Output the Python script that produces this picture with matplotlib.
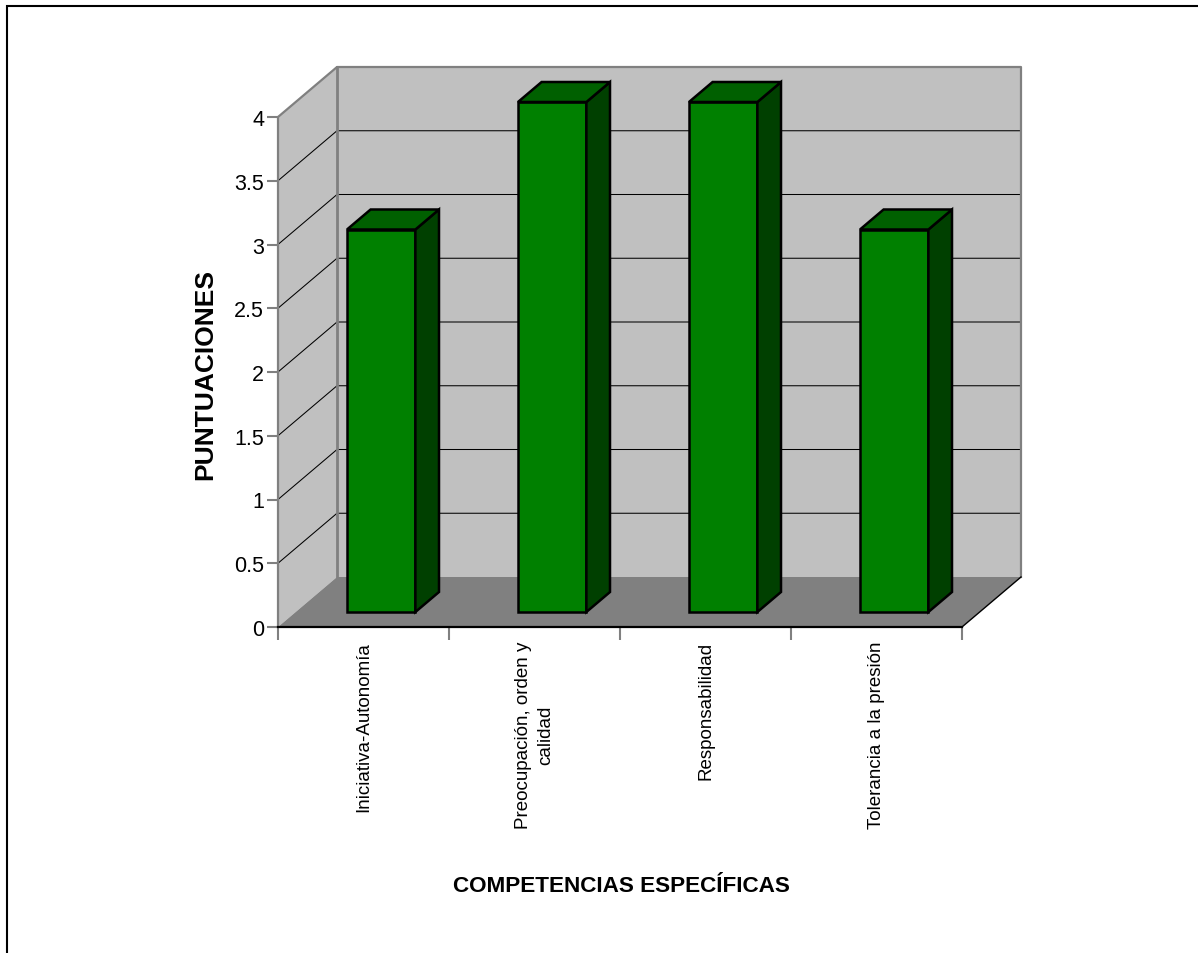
import numpy as np
import matplotlib
matplotlib.use("Agg")
import matplotlib.pyplot as plt
from matplotlib.patches import Polygon, Rectangle
from matplotlib.lines import Line2D
from matplotlib.transforms import IdentityTransform

plt.rcParams["font.family"] = ["Liberation Sans", "DejaVu Sans"]

# --- data ---------------------------------------------------------------
categorias = ["Iniciativa-Autonomía", "Preocupación, orden y\ncalidad",
              "Responsabilidad", "Tolerancia a la presión"]
puntuaciones = [3, 4, 4, 3]
y_ticks = [0, 0.5, 1, 1.5, 2, 2.5, 3, 3.5, 4]
titulo_x = "COMPETENCIAS ESPECÍFICAS"
titulo_y = "PUNTUACIONES"

# --- figure / axes ------------------------------------------------------
W, H, DPI = 1198, 954, 100
fig = plt.figure(figsize=(W / DPI, H / DPI), dpi=DPI)
ax = fig.add_axes([278 / W, 326 / H, 684 / W, 510 / H])
ax.patch.set_visible(False)
for s in ax.spines.values():
    s.set_visible(False)

n = len(categorias)
ymax = y_ticks[-1]
ax.set_xlim(0, n)
ax.set_ylim(0, ymax)

# oblique depth offset (display pixels for a full depth of 1)
DEPTH = np.array([0.59, 0.50]) * DPI

WALL = "#C0C0C0"
FLOOR = "#808080"
EDGE_GRAY = "#808080"


def P(x, y, z):
    return ax.transData.transform((x, y)) + z * DEPTH


def poly(pts, **kw):
    ax.add_patch(Polygon(np.array(pts), closed=True, transform=IdentityTransform(),
                         clip_on=False, **kw))


def line(pts, **kw):
    pts = np.array(pts)
    ax.add_line(Line2D(pts[:, 0], pts[:, 1], transform=IdentityTransform(),
                       clip_on=False, **kw))


# walls and floor
poly([P(0, 0, 0), P(0, ymax, 0), P(0, ymax, 1), P(0, 0, 1)], facecolor=WALL,
     edgecolor="none", zorder=1)
poly([P(0, 0, 1), P(n, 0, 1), P(n, ymax, 1), P(0, ymax, 1)], facecolor=WALL,
     edgecolor="none", zorder=1)
poly([P(0, 0, 0), P(n, 0, 0), P(n, 0, 1), P(0, 0, 1)], facecolor=FLOOR,
     edgecolor="none", zorder=1)

# gridlines on side and back walls
for v in y_ticks[1:-1]:
    line([P(0, v, 0), P(0, v, 1), P(n, v, 1)], color="black", lw=0.75, zorder=2)

# wall edges
line([P(0, 0, 0), P(0, ymax, 0), P(0, ymax, 1), P(n, ymax, 1), P(n, 0, 1)],
     color=EDGE_GRAY, lw=1.6, zorder=3)
line([P(0, 0, 1), P(0, ymax, 1)], color=EDGE_GRAY, lw=2.0, zorder=3)
line([P(0, 0, 0), P(n, 0, 0)], color="black", lw=1.6, zorder=3)
line([P(n, 0, 0), P(n, 0, 1)], color="black", lw=1.0, zorder=3)

# bars
FRONT, SIDE, TOP = "#008000", "#004000", "#006000"
z0, z1 = 0.3, 0.7
for i, v in enumerate(puntuaciones):
    x0, x1 = i + 0.3, i + 0.7
    kw = dict(edgecolor="black", lw=1.8, joinstyle="miter", zorder=4)
    poly([P(x0, 0, z0), P(x1, 0, z0), P(x1, v, z0), P(x0, v, z0)], facecolor=FRONT, **kw)
    poly([P(x1, 0, z0), P(x1, 0, z1), P(x1, v, z1), P(x1, v, z0)], facecolor=SIDE, **kw)
    poly([P(x0, v, z0), P(x1, v, z0), P(x1, v, z1), P(x0, v, z1)], facecolor=TOP, **kw)

ax.set_xlim(0, n)
ax.set_ylim(0, ymax)

# y axis ticks
ax.set_yticks(y_ticks)
ax.set_yticklabels([f"{t:g}" for t in y_ticks])
ax.tick_params(axis="y", which="major", direction="out", length=8, width=1.5,
               color=EDGE_GRAY, pad=2, labelsize=15.5, labelcolor="black")

# x axis: separators as major ticks, category names as minor tick labels
ax.set_xticks(np.arange(0, n + 1))
ax.set_xticklabels([])
ax.tick_params(axis="x", which="major", direction="out", length=9.5, width=1.5,
               color=EDGE_GRAY)
ax.set_xticks(np.arange(n) + 0.5, minor=True)
ax.set_xticklabels(categorias, minor=True, rotation=90, fontsize=13.5,
                   multialignment="center", linespacing=1.35)
ax.tick_params(axis="x", which="minor", length=0, pad=10)

# axis titles
fig.text(205 / W, 1 - 375 / H, titulo_y, rotation=90, ha="center", va="center",
         fontsize=19, fontweight="bold")
fig.text(621 / W, 1 - 887 / H, titulo_x, ha="center", va="center",
         fontsize=16.2, fontweight="bold")

# outer frame
fig.add_artist(Rectangle((6.5 / W, -0.05), 1.2, (H - 6.5) / H + 0.05,
                         transform=fig.transFigure, fill=False,
                         edgecolor="black", lw=1.5))

fig.savefig("out.png", dpi=DPI)
